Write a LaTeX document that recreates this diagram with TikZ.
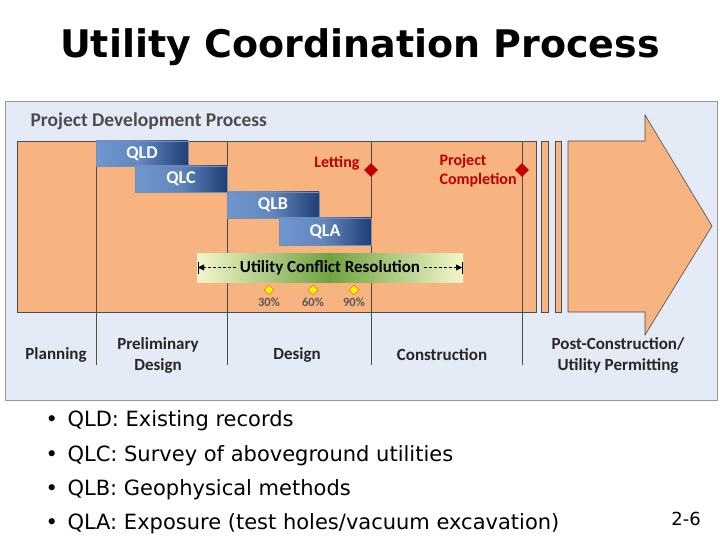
\documentclass[tikz,border=0pt]{standalone}
\usepackage{fontspec}
\setmainfont{DejaVu Sans}
\newfontfamily\calfont{Carlito}
\usetikzlibrary{shapes.geometric,arrows.meta}
\definecolor{panel}{HTML}{E4EBF6}
\definecolor{band}{HTML}{F7B380}
\definecolor{qdark}{HTML}{1F3F75}
\definecolor{qlight}{HTML}{6F97CF}
\definecolor{mred}{HTML}{C00000}
\definecolor{gdark}{HTML}{6FA341}
\definecolor{glight}{HTML}{F3F6CC}
\begin{document}
\begin{tikzpicture}[x=1pt,y=-1pt,
  ql/.style={draw=qdark!60,left color=qlight,right color=qdark,middle color=qlight!80!qdark,font=\calfont\bfseries\fontsize{18}{18}\selectfont,text=white},
  phase/.style={font=\calfont\bfseries\fontsize{17}{21}\selectfont,text=black!85,align=center},
  vline/.style={draw=black!70,line width=0.6pt},
  ms/.style={diamond,fill=mred,inner sep=0pt,minimum size=14pt},
  pct/.style={diamond,draw=orange!80!black,fill=yellow,inner sep=0pt,minimum size=10pt,line width=0.4pt},
  pctl/.style={font=\calfont\bfseries\fontsize{12.5}{12.5}\selectfont,text=black!65},
  bul/.style={anchor=west,font=\fontsize{21}{21}\selectfont}]
\useasboundingbox (0,0) rectangle (720,540);
\fill[white] (0,0) rectangle (720,540);
\node (title) at (360,47) {\bfseries\fontsize{38}{38}\selectfont Utility Coordination Process};
\draw[fill=panel,draw=black!40] (5,101) rectangle (717,400);
\node[anchor=west,font=\calfont\bfseries\fontsize{19.5}{19.5}\selectfont,text=black!70] (pdp) at (27,121) {Project Development Process};
\fill[band,draw=black!70,line width=0.6pt] (17,141) rectangle (536,312);
\fill[band,draw=black!70,line width=0.6pt] (541,141) rectangle (548,312);
\fill[band,draw=black!70,line width=0.6pt] (555,141) rectangle (561,312);
\fill[band,draw=black!70,line width=0.6pt] (568,141) -- (645,141) -- (645,115) -- (712,226) -- (645,335) -- (645,312) -- (568,312) -- cycle;
\foreach \x in {96,227,371,522} \draw[vline] (\x,141) -- (\x,365);
\node[ql,minimum width=92pt,minimum height=25pt] (qld) at (142,153.5) {QLD};
\node[ql,minimum width=92pt,minimum height=26pt] (qlc) at (181,179) {QLC};
\node[ql,minimum width=92pt,minimum height=26pt] (qlb) at (273,205) {QLB};
\node[ql,minimum width=92pt,minimum height=27pt] (qla) at (325,231.5) {QLA};
\shade[left color=glight,right color=glight,middle color=gdark,draw=none] (197,253) rectangle (463,282);
\node[font=\calfont\bfseries\fontsize{17}{17}\selectfont] (ucr) at (330,267.5) {Utility Conflict Resolution};
\coordinate (ul) at (198,267.5);
\coordinate (ur) at (462,267.5);
\draw[-{Triangle[length=6pt,width=6pt]},densely dashed] (ucr.west) -- (ul);
\draw[-{Triangle[length=6pt,width=6pt]},densely dashed] (ucr.east) -- (ur);
\draw (ul)++(0,-6) -- ++(0,12);
\draw (ur)++(0,-6) -- ++(0,12);
\node[pct] (p30) at (269,290) {};
\node[pct] (p60) at (313,290) {};
\node[pct] (p90) at (354,290) {};
\node[pctl] at (269,302) {30\%};
\node[pctl] at (313,302) {60\%};
\node[pctl] at (354,302) {90\%};
\node[ms] (let) at (371,170) {};
\node[ms] (pc) at (522,170) {};
\node[font=\calfont\bfseries\fontsize{16}{16}\selectfont,text=mred,anchor=east] (lett) at (363,163) {Letting};
\node[font=\calfont\bfseries\fontsize{16}{19}\selectfont,text=mred,align=left,anchor=west] (pct) at (436,171) {Project\\Completion};
\node[phase] (pl) at (56,355) {Planning};
\node[phase] (pd) at (158,355) {Preliminary\\Design};
\node[phase] (de) at (297,355) {Design};
\node[phase] (co) at (442,355) {Construction};
\node[phase] (po) at (618,355) {Post-Construction/\\Utility Permitting};
\foreach \y/\t in {421/{QLD: Existing records},456/{QLC: Survey of aboveground utilities},490/{QLB: Geophysical methods},524/{QLA: Exposure (test holes/vacuum excavation)}}{
  \node[bul] at (42,\y) {\textbullet};
  \node[bul] at (64,\y) {\t};
}
\node[font=\fontsize{18}{18}\selectfont] (pg) at (686,519) {2-6};
\end{tikzpicture}
\end{document}
